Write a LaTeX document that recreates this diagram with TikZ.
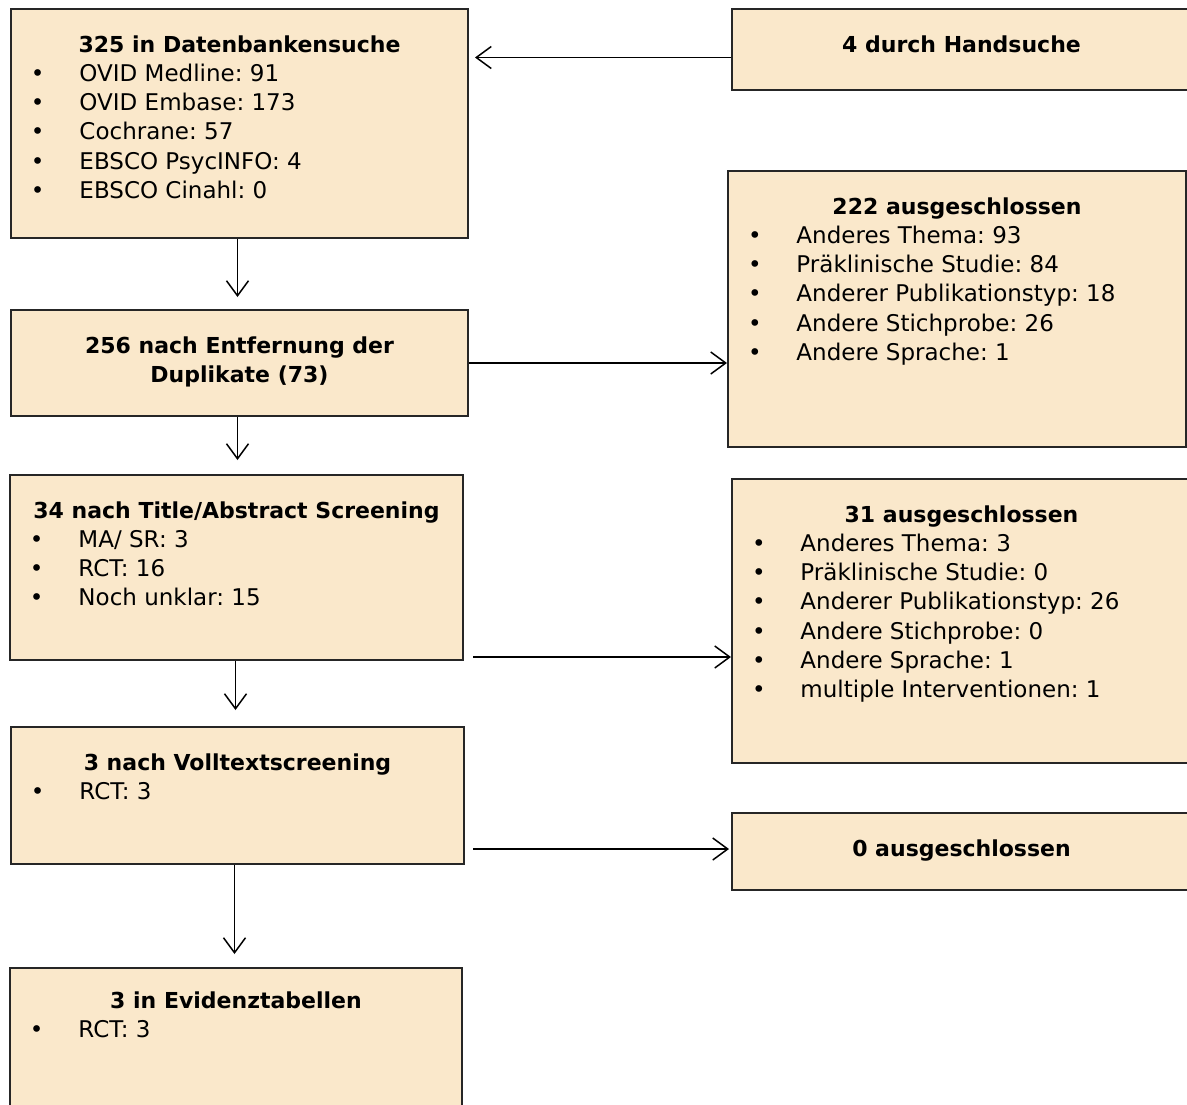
\documentclass[tikz,border=0pt]{standalone}
\usepackage{fontspec}
\setmainfont{DejaVu Sans}
\usepackage{tikz}
\usetikzlibrary{arrows.meta}
\frenchspacing
\definecolor{kastenfarbe}{RGB}{250,232,203}
\newcommand{\inhalt}[3]{\parbox[c][#2][t]{#1}{\raggedright\frenchspacing\fontsize{23}{29.3}\selectfont #3}}
\newcommand{\kopf}[2][43pt]{{\centering\fontsize{22}{29.3}\selectfont\bfseries\rule{0pt}{#1}#2\par}}
\newcommand{\punkt}[1]{\par\noindent\hspace*{20pt}\makebox[48.5pt][l]{\textbullet}#1}
\tikzset{
	>={Straight Barb[length=15pt,width=22pt]},
	kasten/.style={
		rectangle,
		draw=black!85, line width=2pt,
		fill=kastenfarbe,
		inner sep=0pt,
		anchor=north west},
	pfeil/.style={draw, line width=1.5pt, ->},
}
\begin{document}
\begin{tikzpicture}[x=1pt,y=1pt]
	\clip (0,0) rectangle (1187,-1104);
	% linke Spalte
	\node[kasten] (db) at (10,-8) {\inhalt{457pt}{229pt}{\kopf{325 in Datenbankensuche}
		\punkt{OVID Medline: 91}\punkt{OVID Embase: 173}\punkt{Cochrane: 57}
		\punkt{EBSCO PsycINFO: 4}\punkt{EBSCO Cinahl: 0}}};
	\node[kasten] (dupl) at (10,-309) {\inhalt{457pt}{106pt}{\kopf{256 nach Entfernung der\\Duplikate (73)}}};
	\node[kasten] (tias) at (9,-474) {\inhalt{453pt}{185pt}{\kopf{34 nach Title/Abstract Screening}
		\punkt{MA/ SR: 3}\punkt{RCT: 16}\punkt{Noch unklar: 15}}};
	\node[kasten] (volltext) at (10,-726) {\inhalt{453pt}{137pt}{\kopf{3 nach Volltextscreening}
		\punkt{RCT: 3}}};
	\node[kasten] (evidenz) at (9,-967) {\inhalt{452pt}{200pt}{\kopf[40pt]{3 in Evidenztabellen}
		\punkt{RCT: 3}}};
	% rechte Spalte
	\node[kasten] (hand) at (731,-8) {\inhalt{459pt}{81pt}{\kopf{4 durch Handsuche}}};
	\node[kasten] (aus1) at (727,-170) {\inhalt{458pt}{276pt}{\kopf{222 ausgeschlossen}
		\punkt{Anderes Thema: 93}\punkt{Präklinische Studie: 84}
		\punkt{Anderer Publikationstyp: 18}\punkt{Andere Stichprobe: 26}
		\punkt{Andere Sprache: 1}}};
	\node[kasten] (aus2) at (731,-478) {\inhalt{459pt}{284pt}{\kopf{31 ausgeschlossen}
		\punkt{Anderes Thema: 3}\punkt{Präklinische Studie: 0}
		\punkt{Anderer Publikationstyp: 26}\punkt{Andere Stichprobe: 0}
		\punkt{Andere Sprache: 1}\punkt{multiple Interventionen: 1}}};
	\node[kasten] (aus3) at (731,-812) {\inhalt{459pt}{77pt}{\kopf{0 ausgeschlossen}}};
	% Pfeile
	\draw[pfeil] ([yshift=-8pt]hand.west) -- ([xshift=6pt,yshift=-8pt]db.east |- hand.west);
	\draw[pfeil, shorten >=12pt] ([xshift=-2pt]db.south) -- ([xshift=-2pt]dupl.north);
	\draw[pfeil] (dupl.east) -- (dupl.east -| aus1.west);
	\draw[pfeil, shorten >=14pt] ([xshift=-2pt]dupl.south) -- ([xshift=-2pt]dupl.south |- tias.north);
	\draw[pfeil] ([xshift=9pt,yshift=4pt]tias.south east) -- ([yshift=4pt]tias.south east -| aus2.west);
	\draw[pfeil, shorten >=16pt] ([xshift=-1pt]tias.south) -- ([xshift=-1pt]tias.south |- volltext.north);
	\draw[pfeil, shorten >=2pt] ([xshift=8pt,yshift=16pt]volltext.south east) -- ([yshift=16pt]volltext.south east -| aus3.west);
	\draw[pfeil, shorten >=13pt] ([xshift=-3pt]volltext.south) -- ([xshift=-3pt]volltext.south |- evidenz.north);
\end{tikzpicture}
\end{document}
